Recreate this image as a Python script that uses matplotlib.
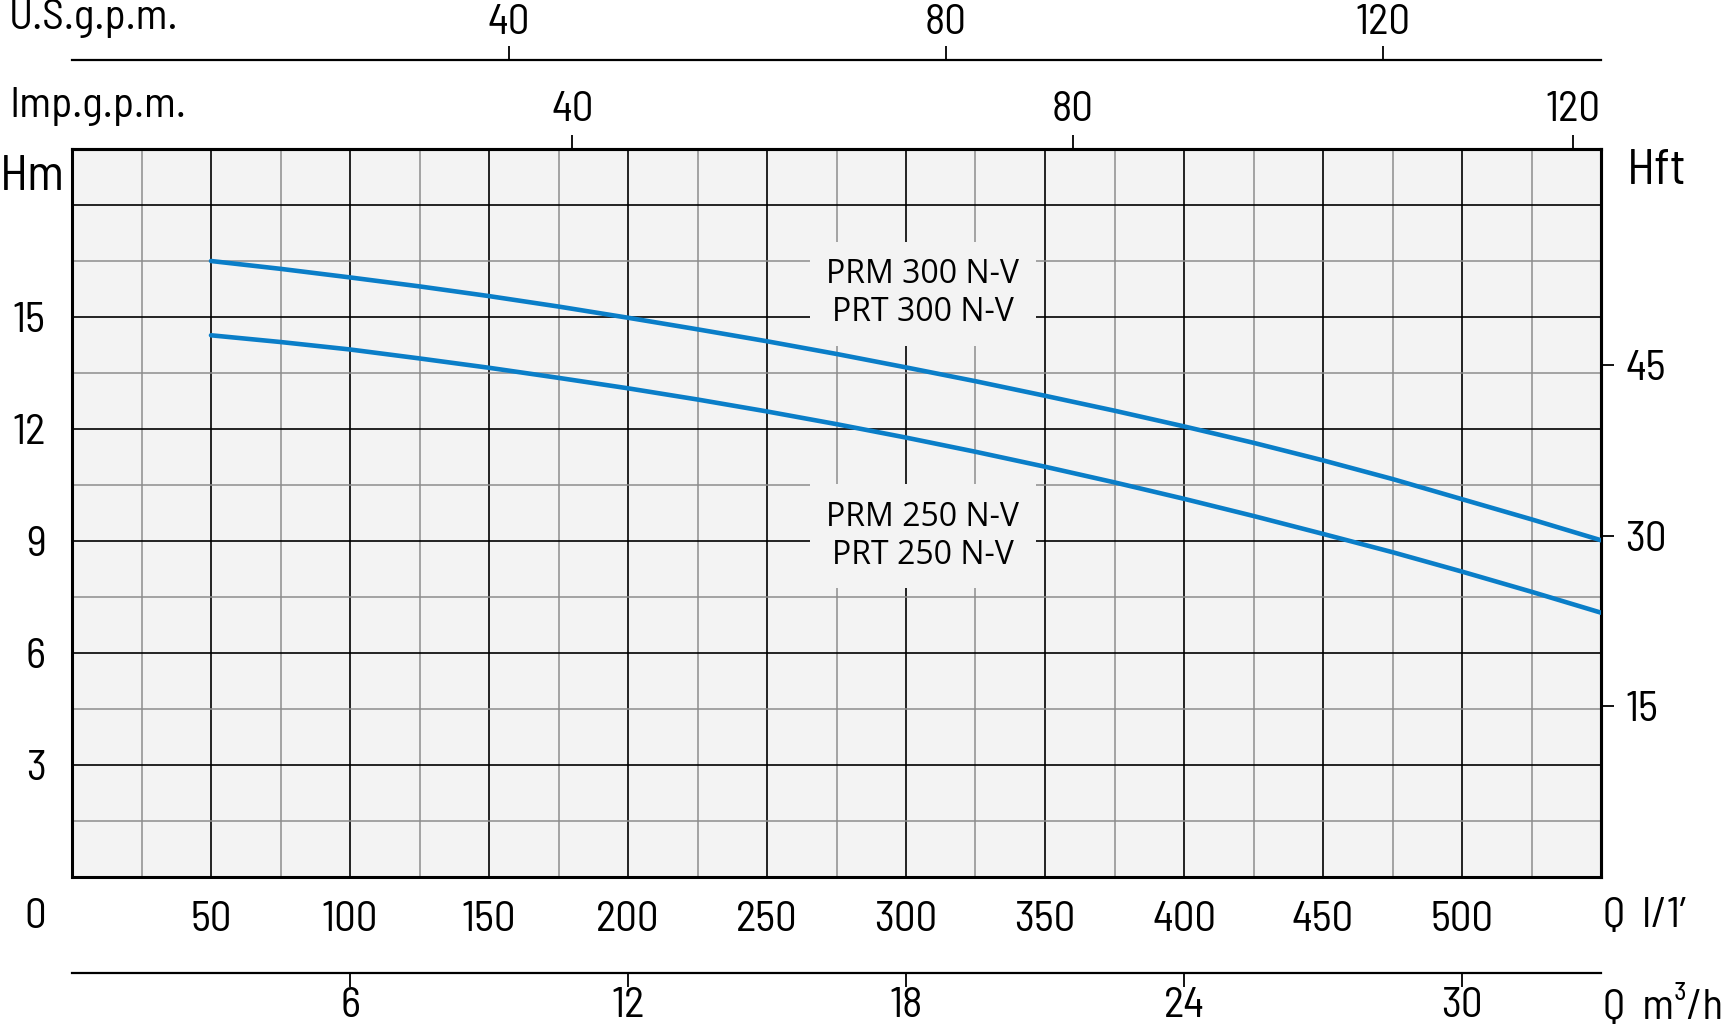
#!/usr/bin/env python3
import matplotlib
matplotlib.use("Agg")
import matplotlib.pyplot as plt

plt.rcParams['font.family'] = ['Barlow Semi Condensed', 'DejaVu Sans']

# flow in l/min and head in m
flow_lpm = [50, 75, 100, 125, 150, 175, 200, 225, 250, 275, 300,
            325, 350, 375, 400, 425, 450, 475, 500, 525, 550]
head_300 = [16.50, 16.29, 16.06, 15.82, 15.56, 15.28, 14.98, 14.67, 14.35, 14.01, 13.65,
            13.28, 12.89, 12.49, 12.07, 11.63, 11.16, 10.66, 10.12, 9.58, 9.02]
head_250 = [14.51, 14.33, 14.13, 13.89, 13.64, 13.37, 13.09, 12.79, 12.47, 12.13, 11.77,
            11.39, 10.99, 10.57, 10.13, 9.67, 9.19, 8.70, 8.18, 7.64, 7.08]

label_300 = "PRM 300 N-V\nPRT 300 N-V"
label_250 = "PRM 250 N-V\nPRT 250 N-V"

lpm_ticks = [50, 100, 150, 200, 250, 300, 350, 400, 450, 500]
hm_ticks = [3, 6, 9, 12, 15]
hft_ticks = [15, 30, 45]
imp_ticks = [40, 80, 120]
us_ticks = [40, 80, 120]
m3h_ticks = [6, 12, 18, 24, 30]

L_PER_IMP = 4.5     # as drawn on the chart
L_PER_US = 3.93
M_PER_FT = 0.3048

W, H = 1734, 1028
CURVE_COLOR = '#0a7ec8'
BG = '#f3f3f3'
FS = 31

fig = plt.figure(figsize=(W / 100, H / 100), dpi=100)
ax = fig.add_axes([72 / W, (H - 877) / H, 1529 / W, 728 / H])
ax.set_facecolor(BG)
ax.set_xlim(0, 550)
ax.set_ylim(0, 19.5)

# grid
ax.set_xticks(lpm_ticks)
ax.set_xticks(range(25, 550, 50), minor=True)
ax.set_yticks([0] + hm_ticks + [18])
ax.set_yticklabels([''] + [str(t) for t in hm_ticks] + [''])
ax.set_yticks([1.5 + 3 * i for i in range(7)], minor=True)
ax.grid(which='major', color='black', lw=1.2)
ax.grid(which='minor', color='#8c8c8c', lw=1.1)
ax.set_axisbelow(True)
ax.tick_params(which='both', length=0)
ax.tick_params(axis='x', labelsize=FS, pad=17)
ax.tick_params(axis='y', labelsize=FS, pad=19)
for sp in ax.spines.values():
    sp.set_linewidth(2.2)

ax.plot(flow_lpm, head_300, color=CURVE_COLOR, lw=3.3, solid_capstyle='round', zorder=3)
ax.plot(flow_lpm, head_250, color=CURVE_COLOR, lw=3.3, solid_capstyle='round', zorder=3)

box = dict(facecolor=BG, edgecolor='none', pad=12)
ax.text(306, 15.62, label_300, ha='center', va='center', fontsize=23,
        family=['Open Sans', 'DejaVu Sans'], bbox=box, zorder=2)
ax.text(306, 9.13, label_250, ha='center', va='center', fontsize=23,
        family=['Open Sans', 'DejaVu Sans'], bbox=box, zorder=2)

# right: feet
rax = ax.secondary_yaxis('right', functions=(lambda m: m / M_PER_FT, lambda f: f * M_PER_FT))
rax.set_yticks(hft_ticks)
rax.tick_params(length=9.5, width=1.3, labelsize=FS, pad=8)
rax.spines['right'].set_linewidth(2.2)

# top: imperial gallons per minute
tax = ax.secondary_xaxis('top', functions=(lambda q: q / L_PER_IMP, lambda g: g * L_PER_IMP))
tax.set_xticks(imp_ticks)
tax.tick_params(length=10, width=1.3, labelsize=FS, pad=4)
tax.spines['top'].set_linewidth(2.2)

# top: US gallons per minute
uax = ax.secondary_xaxis((877 - 60) / 728, functions=(lambda q: q / L_PER_US, lambda g: g * L_PER_US))
uax.set_xticks(us_ticks)
uax.tick_params(length=10, width=1.3, labelsize=FS, pad=2)
uax.spines['top'].set_linewidth(1.6)

# bottom: cubic metres per hour
bax = ax.secondary_xaxis((877 - 973) / 728, functions=(lambda q: q * 0.06, lambda c: c / 0.06))
bax.set_xticks(m3h_ticks)
bax.tick_params(length=10, width=1.3, labelsize=FS, pad=0)
bax.spines['bottom'].set_linewidth(1.6)

def ftext(x, y, s, **kw):
    fig.text(x / W, 1 - y / H, s, fontsize=kw.pop('fontsize', FS), va='center', **kw)

ftext(0, 177, "Hm", fontsize=36)
ftext(1627, 172, "Hft", fontsize=36)
ftext(9, 19, "U.S.g.p.m.")
ftext(9, 107, "Imp.g.p.m.")
ftext(35, 917, "0", ha='center')
ftext(1603, 917, "Q  l/1\u2019")
ftext(1603, 1007, "Q  m\u00b3/h")

fig.savefig("out.png", dpi=100)
